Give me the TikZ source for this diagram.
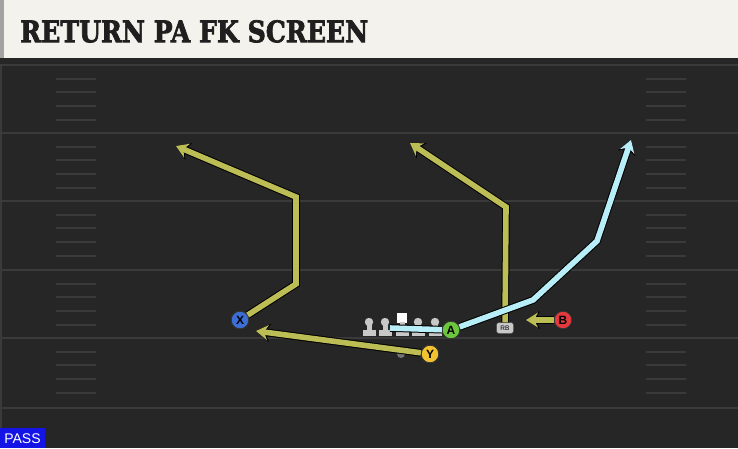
\documentclass[tikz,border=0pt]{standalone}
\usepackage{fontspec}
\usepackage{graphicx}
\setsansfont{Liberation Sans}
\newfontfamily\titlefont{DejaVu Serif}[BoldFont={DejaVu Serif Bold}, BoldFeatures={FakeBold=2.5}]
\usetikzlibrary{arrows.meta}

\definecolor{fieldbg}{HTML}{262626}
\definecolor{fieldline}{HTML}{3A3A3A}
\definecolor{headbg}{HTML}{F4F2EC}
\definecolor{headedge}{HTML}{A3A3A3}
\definecolor{routeyellow}{HTML}{BDBD55}
\definecolor{routeblue}{HTML}{B8EEF8}
\definecolor{olgrey}{HTML}{C8C8C8}
\definecolor{xblue}{HTML}{3D6ED6}
\definecolor{yyellow}{HTML}{F2C230}
\definecolor{agreen}{HTML}{6CC63C}
\definecolor{bred}{HTML}{E23A3E}
\definecolor{passblue}{HTML}{1414E6}

\begin{document}
\begin{tikzpicture}[x=1pt, y=-1pt, >={Stealth[length=12pt,width=15pt,inset=4pt]},
  player/.style={circle, draw=black!80, line width=0.8pt, minimum size=17.5pt, inner sep=0pt,
    font=\sffamily\bfseries\fontsize{12}{12}\selectfont},
  route/.style={->, line width=5.6pt, line join=miter,
    preaction={draw=black, line width=7.6pt, -{Stealth[length=14pt,width=18pt,inset=4.6pt]}}},
  yardline/.style={fieldline, line width=2pt},
  hashmark/.style={fieldline, line width=1.5pt}]
  \useasboundingbox (0,0) rectangle (738,448);

  % Field
  \fill[fieldbg] (0,0) rectangle (738,448);
  \draw[fieldline, line width=1.5pt] (1,64) -- (1,448);
  \foreach \yl in {65,133,201,270,338,408}
    \draw[yardline] (0,\yl) -- (738,\yl);
  \foreach \yl in {65,133,201,270,338} {
    \foreach \dy in {14,27,41,55} {
      \draw[hashmark] (56,\yl+\dy) -- (96,\yl+\dy);
      \draw[hashmark] (646,\yl+\dy) -- (686,\yl+\dy);
    }
  }

  % Header
  \fill[headbg] (0,0) rectangle (738,58);
  \fill[headedge] (0,0) rectangle (4,58);
  \fill[black!85] (0,58) rectangle (738,64);
  \node[anchor=north west, inner sep=0pt, text=black!88] (title) at (20,20)
    {\resizebox{348pt}{22pt}{\titlefont\bfseries RETURN PA FK SCREEN}};

  % Line
  \foreach \ox in {369,385,418,435} {
    \fill[olgrey] (\ox,322) circle (4.2pt);
    \fill[olgrey] (\ox-2.5,322) rectangle (\ox+2.5,331);
    \fill[olgrey] (\ox-6.5,329.5) rectangle (\ox+6.5,336);
  }
  \fill[white] (397,312.5) rectangle (407,322.5);
  \fill[olgrey] (399.5,322) rectangle (404.5,331);
  \fill[olgrey] (395.5,329.5) rectangle (408.5,336);
  \fill[black!55] (401,354) circle (4pt);

  % Players
  \node[player, fill=xblue] (x) at (240,320) {X};
  \node[player, fill=yyellow] (y) at (430,354) {Y};
  \node[player, fill=agreen] (a) at (451,330) {A};
  \node[player, fill=bred] (b) at (563,320) {B};
  \node[fill=olgrey, draw=black!70, line width=0.5pt, rounded corners=2.5pt, inner sep=0pt,
    minimum width=17pt, minimum height=11pt, font=\sffamily\fontsize{6.5}{6.5}\selectfont] (rb) at (505,328) {RB};

  % Route points
  \coordinate (x1) at (296,284);
  \coordinate (x2) at (296,197);
  \coordinate (x3) at (176,146);
  \coordinate (y1) at (256,331);
  \coordinate (rb1) at (506,207);
  \coordinate (rb2) at (410,143);
  \coordinate (a0) at (390,328);
  \coordinate (a1) at (533,300);
  \coordinate (a2) at (597,241);
  \coordinate (a3) at (631,140);
  \coordinate (b1) at (526,320);

  % Routes
  \draw[route, routeyellow] (x) -- (x1) -- (x2) -- (x3);
  \draw[route, routeyellow] (y) -- (y1);
  \draw[route, routeyellow] (rb) -- (rb1) -- (rb2);
  \draw[route, routeyellow] (b) -- (b1);
  \draw[routeblue, line width=5.6pt, preaction={draw=black, line width=7.6pt}] (a0) -- (a);
  \draw[route, routeblue] (a) -- (a1) -- (a2) -- (a3);

  % Play type
  \fill[passblue] (0,428) rectangle (45,448);
  \node[text=white, font=\sffamily\fontsize{14}{14}\selectfont, inner sep=0pt] (pass) at (22.5,438.5) {PASS};
\end{tikzpicture}
\end{document}
